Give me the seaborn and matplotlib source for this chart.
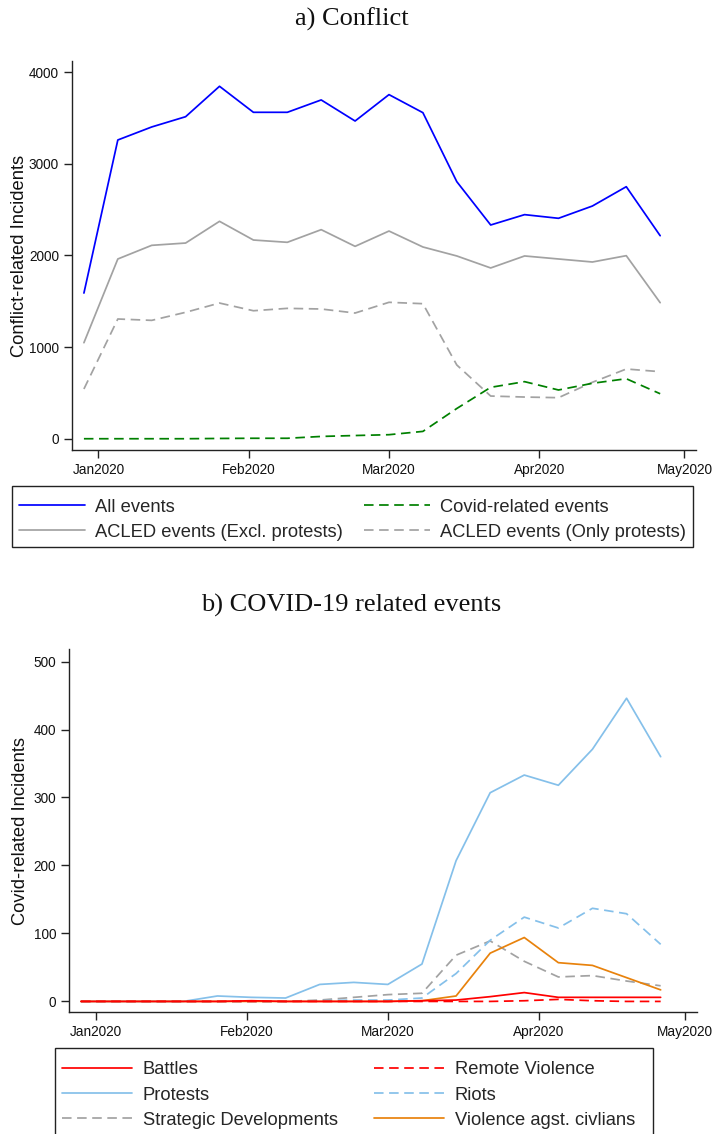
import matplotlib
matplotlib.use("Agg")
import matplotlib.pyplot as plt
from matplotlib.lines import Line2D
from matplotlib.patches import Rectangle
import pandas as pd
import seaborn as sns

# ---------------- data ----------------
weeks = ["2019-12-29", "2020-01-05", "2020-01-12", "2020-01-19", "2020-01-26",
         "2020-02-02", "2020-02-09", "2020-02-16", "2020-02-23", "2020-03-01",
         "2020-03-08", "2020-03-15", "2020-03-22", "2020-03-29", "2020-04-05",
         "2020-04-12", "2020-04-19", "2020-04-26"]

# Panel a) Conflict
all_events = [1590, 3261, 3403, 3515, 3847, 3563, 3563, 3698, 3468, 3756,
              3559, 2806, 2333, 2446, 2406, 2540, 2751, 2216]
acled_excl_protests = [1048, 1962, 2111, 2136, 2373, 2169, 2144, 2282, 2100, 2267,
                       2093, 1995, 1864, 1995, 1962, 1929, 1998, 1485]
acled_only_protests = [543, 1307, 1292, 1380, 1481, 1397, 1423, 1416, 1372, 1489,
                       1474, 805, 466, 455, 448, 616, 761, 732]
covid_related = [0, 0, 0, 0, 3, 5, 5, 25, 35, 44, 80, 330, 561, 623, 532, 605, 655, 491]

# Panel b) COVID-19 related events
battles = [0, 0, 0, 0, 0, 1, 0, 0, 0, 0, 1, 2, 7, 13, 6, 6, 6, 6]
remote_violence = [0, 0, 0, 0, 0, 0, 0, 0, 0, 0, 0, 0, 0, 1, 3, 1, 0, 0]
protests = [0, 0, 0, 0, 8, 6, 5, 25, 28, 25, 55, 207, 307, 333, 318, 371, 446, 360]
riots = [0, 0, 0, 0, 0, 0, 0, 1, 2, 2, 5, 41, 90, 124, 108, 137, 129, 84]
strategic = [0, 0, 0, 0, 0, 0, 0, 2, 6, 10, 12, 68, 89, 59, 36, 38, 30, 23]
violence_civilians = [0, 0, 0, 0, 0, 0, 0, 0, 0, 0, 1, 8, 71, 94, 57, 53, 35, 17]

month_ticks = ["2020-01-01", "2020-02-01", "2020-03-01", "2020-04-01", "2020-05-01"]
month_labels = ["Jan2020", "Feb2020", "Mar2020", "Apr2020", "May2020"]

labels_a = ["All events", "ACLED events (Excl. protests)",
            "Covid-related events", "ACLED events (Only protests)"]
labels_b = ["Battles", "Protests", "Strategic Developments",
            "Remote Violence", "Riots", "Violence agst. civlians"]

# ---------------- style ----------------
sns.set_style("ticks")
plt.rcParams["font.family"] = ["Liberation Sans", "DejaVu Sans"]

BLUE = "#0000ff"
GRAY = "#a2a2a2"
GREEN = "#008000"
RED = "#ff0000"
LBLUE = "#85c0ea"
ORANGE = "#e8820c"
SOLID = "-"
DASH = (0, (5.5, 3.2))
LW = 1.25

W, H = 715, 1134
fig = plt.figure(figsize=(W / 100, H / 100), dpi=100)


def px_axes(left, top, right, bottom):
    return fig.add_axes([left / W, 1 - bottom / H, (right - left) / W, (bottom - top) / H])


dates = pd.to_datetime(weeks)
x0 = pd.Timestamp("2020-01-01") - pd.Timedelta(days=5.4)
x1 = pd.Timestamp("2020-01-01") + pd.Timedelta(days=123.4)


def style_axes(ax, ylim, yticks, ylabel, label_x):
    ax.set_xlim(x0, x1)
    ax.set_ylim(*ylim)
    ax.set_yticks(yticks)
    ax.set_yticklabels([str(v) for v in yticks])
    ax.set_xticks(pd.to_datetime(month_ticks))
    ax.set_xticklabels(month_labels)
    sns.despine(ax=ax)
    for s in ("left", "bottom"):
        ax.spines[s].set_color("#222222")
        ax.spines[s].set_linewidth(1.0)
    ax.tick_params(axis="both", length=5.5, width=1.0, color="#222222",
                   labelsize=9.8, labelcolor="#111111", pad=4)
    ax.set_xlabel("")
    ax.set_ylabel(ylabel, fontsize=13.2, color="#111111")
    ax.yaxis.set_label_coords(label_x, 0.5)


def draw(ax, values, color, ls):
    sns.lineplot(x=dates, y=values, ax=ax, color=color, linestyle=ls,
                 linewidth=LW, estimator=None, legend=False)


# ---------------- panel a ----------------
ax1 = px_axes(72.3, 61, 696, 450)
draw(ax1, acled_only_protests, GRAY, DASH)
draw(ax1, acled_excl_protests, GRAY, SOLID)
draw(ax1, covid_related, GREEN, DASH)
draw(ax1, all_events, BLUE, SOLID)
style_axes(ax1, (-123, 4123), [0, 1000, 2000, 3000, 4000],
           "Conflict-related Incidents", (28.5 - 72.3) / (696 - 72.3))

# ---------------- panel b ----------------
ax2 = px_axes(69.3, 649.3, 696.7, 1012.3)
draw(ax2, strategic, GRAY, DASH)
draw(ax2, protests, LBLUE, SOLID)
draw(ax2, riots, LBLUE, DASH)
draw(ax2, violence_civilians, ORANGE, SOLID)
draw(ax2, remote_violence, RED, DASH)
draw(ax2, battles, RED, SOLID)
style_axes(ax2, (-16, 518), [0, 100, 200, 300, 400, 500],
           "Covid-related Incidents", (29 - 69.3) / (696.7 - 69.3))

# ---------------- titles ----------------
fig.text(352 / W, 1 - 26 / H, "a) Conflict", ha="center", va="baseline",
         fontsize=19, family=["Liberation Serif", "DejaVu Serif"], color="#111111")
fig.text(351 / W, 1 - 611.5 / H, "b) COVID-19 related events", ha="center", va="baseline",
         fontsize=19, family=["Liberation Serif", "DejaVu Serif"], color="#111111")

# ---------------- legends ----------------
LEG_FS = 13.2
FPX = LEG_FS * 100 / 72


def handle(color, ls):
    return Line2D([], [], color=color, linestyle=ls, linewidth=LW)


handles_a = [handle(BLUE, SOLID), handle(GRAY, SOLID), handle(GREEN, DASH), handle(GRAY, DASH)]
leg_a = fig.legend(handles_a, labels_a, ncol=2, loc="upper left",
                   bbox_to_anchor=(19 / W, 1 - 498.5 / H), frameon=False,
                   fontsize=LEG_FS, borderpad=0, borderaxespad=0,
                   handlelength=66 / FPX, handletextpad=10 / FPX,
                   columnspacing=21.5 / FPX, labelspacing=0.44)
fig.add_artist(Rectangle((12 / W, 1 - 547 / H), 681 / W, 61 / H, transform=fig.transFigure,
                         fill=False, edgecolor="#222222", linewidth=1.0))

handles_b = [handle(RED, SOLID), handle(LBLUE, SOLID), handle(GRAY, DASH),
             handle(RED, DASH), handle(LBLUE, DASH), handle(ORANGE, SOLID)]
leg_b = fig.legend(handles_b, labels_b, ncol=2, loc="upper left",
                   bbox_to_anchor=(62 / W, 1 - 1061.5 / H), frameon=False,
                   fontsize=LEG_FS, borderpad=0, borderaxespad=0,
                   handlelength=70 / FPX, handletextpad=11 / FPX,
                   columnspacing=36 / FPX, labelspacing=0.44)
fig.add_artist(Rectangle((55 / W, 1 - 1140 / H), 598 / W, 92 / H, transform=fig.transFigure,
                         fill=False, edgecolor="#222222", linewidth=1.0, clip_on=False))

fig.savefig("out.png", dpi=100, facecolor="white")
